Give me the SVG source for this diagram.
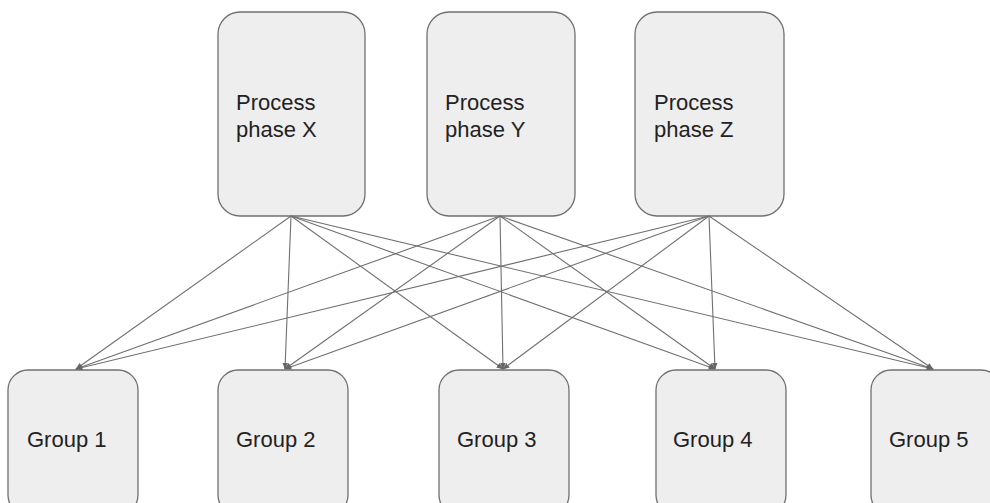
<svg xmlns="http://www.w3.org/2000/svg" width="990" height="503" viewBox="0 0 990 503">
<defs>
<marker id="ah" viewBox="0 0 10 10" refX="9" refY="5" markerWidth="7" markerHeight="7" markerUnits="userSpaceOnUse" orient="auto">
<path d="M0,1 L10,5 L0,9 z" fill="#666"/>
</marker>
<style>
.box{fill:#eeeeee;stroke:#707070;stroke-width:1.3}
.t{font-family:"Liberation Sans",Arial,sans-serif;font-size:22px;fill:#222}
.c{stroke:#707070;stroke-width:1.1;fill:none;marker-end:url(#ah)}
</style>
</defs>
<rect width="990" height="503" fill="#fff"/>
<g id="phaseX"><rect class="box" x="218" y="12" width="147" height="204" rx="22"/><text class="t" x="236" y="110">Process</text><text class="t" x="236" y="137">phase X</text></g>
<g id="phaseY"><rect class="box" x="427" y="12" width="148" height="204" rx="22"/><text class="t" x="445" y="110">Process</text><text class="t" x="445" y="137">phase Y</text></g>
<g id="phaseZ"><rect class="box" x="635" y="12" width="149" height="204" rx="22"/><text class="t" x="654" y="110">Process</text><text class="t" x="654" y="137">phase Z</text></g>
<g id="group1"><rect class="box" x="8" y="370" width="130" height="145" rx="20"/><text class="t" x="27" y="447">Group 1</text></g>
<g id="group2"><rect class="box" x="218" y="370" width="130" height="145" rx="20"/><text class="t" x="236" y="447">Group 2</text></g>
<g id="group3"><rect class="box" x="439" y="370" width="130" height="145" rx="20"/><text class="t" x="457" y="447">Group 3</text></g>
<g id="group4"><rect class="box" x="656" y="370" width="130" height="145" rx="20"/><text class="t" x="673" y="447">Group 4</text></g>
<g id="group5"><rect class="box" x="871" y="370" width="130" height="145" rx="20"/><text class="t" x="889" y="447">Group 5</text></g>
<g id="connectors">
<line class="c" x1="291" y1="216" x2="76" y2="369"/>
<line class="c" x1="291" y1="216" x2="285" y2="369"/>
<line class="c" x1="291" y1="216" x2="503" y2="369"/>
<line class="c" x1="291" y1="216" x2="715" y2="369"/>
<line class="c" x1="291" y1="216" x2="933" y2="369"/>
<line class="c" x1="500" y1="216" x2="76" y2="369"/>
<line class="c" x1="500" y1="216" x2="285" y2="369"/>
<line class="c" x1="500" y1="216" x2="503" y2="369"/>
<line class="c" x1="500" y1="216" x2="715" y2="369"/>
<line class="c" x1="500" y1="216" x2="933" y2="369"/>
<line class="c" x1="709" y1="216" x2="76" y2="369"/>
<line class="c" x1="709" y1="216" x2="285" y2="369"/>
<line class="c" x1="709" y1="216" x2="503" y2="369"/>
<line class="c" x1="709" y1="216" x2="715" y2="369"/>
<line class="c" x1="709" y1="216" x2="933" y2="369"/>
</g>
</svg>
